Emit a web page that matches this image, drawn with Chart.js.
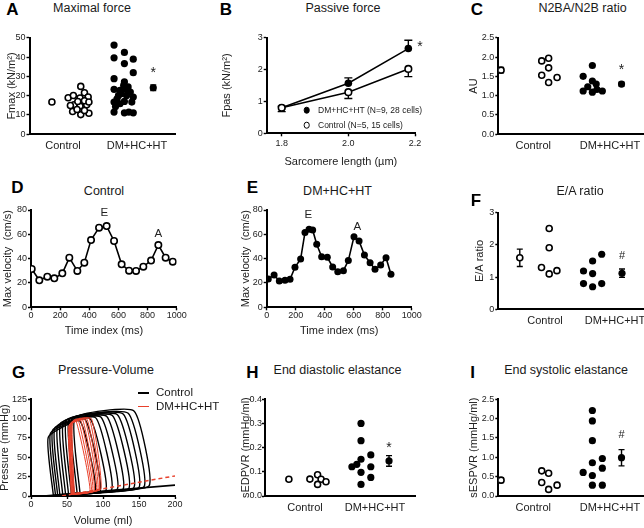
<!DOCTYPE html>
<html>
<head>
<meta charset="utf-8">
<title>Cardiac function panels</title>
<script src="https://cdn.jsdelivr.net/npm/chart.js@4.4.1/dist/chart.umd.min.js"></script>
<style>
  html, body { margin: 0; padding: 0; background: #fff; }
  body { position: relative; width: 644px; height: 528px; overflow: hidden;
         font-family: "Liberation Sans", Arial, Helvetica, sans-serif; color: #1a1a1a; }
  .t { position: absolute; white-space: nowrap; line-height: 1; transform: translate(-50%, -50%); z-index: 2; }
  .letter { font-size: 17px; font-weight: bold; color: #000; }
  .title { font-size: 12.5px; }
  .leg { position: absolute; white-space: nowrap; line-height: 1; transform: translateY(-50%); z-index: 2; }
  .dot { position: absolute; width: 4.6px; height: 4.6px; border-radius: 50%; border: 1.6px solid #000;
         transform: translate(-50%, -50%); z-index: 2; }
  .swatch { position: absolute; height: 0; width: 11px; z-index: 2; }
</style>
</head>
<body>
<!-- panel letters and titles -->
<div class="t letter" style="left:12.5px;top:9px">A</div>
<div class="t title" style="left:92px;top:7.5px">Maximal force</div>
<div class="t letter" style="left:226px;top:9px">B</div>
<div class="t title" style="left:343px;top:7.5px">Passive force</div>
<div class="t letter" style="left:477px;top:9px">C</div>
<div class="t title" style="left:582.5px;top:7.5px">N2BA/N2B ratio</div>
<div class="t letter" style="left:17.5px;top:187px">D</div>
<div class="t title" style="left:104px;top:190.7px">Control</div>
<div class="t letter" style="left:252.5px;top:187px">E</div>
<div class="t title" style="left:337.5px;top:190.7px">DM+HC+HT</div>
<div class="t letter" style="left:476px;top:200px">F</div>
<div class="t title" style="left:580px;top:191px">E/A ratio</div>
<div class="t letter" style="left:18.5px;top:372px">G</div>
<div class="t title" style="left:106px;top:370px">Pressure-Volume</div>
<div class="t letter" style="left:252.5px;top:372px">H</div>
<div class="t title" style="left:337.5px;top:370px">End diastolic elastance</div>
<div class="t letter" style="left:472.5px;top:372px">I</div>
<div class="t title" style="left:566px;top:370px">End systolic elastance</div>

<!-- legend of B -->
<div class="dot" style="left:306.7px;top:110px;background:#000"></div>
<div class="leg" style="left:318px;top:110px;font-size:8.5px">DM+HC+HT (N=9, 28 cells)</div>
<div class="dot" style="left:306.7px;top:125px;background:#fff"></div>
<div class="leg" style="left:318px;top:125px;font-size:8.5px">Control (N=5, 15 cells)</div>

<!-- legend of G -->
<div class="swatch" style="left:138px;top:392.3px;border-top:2px solid #000"></div>
<div class="leg" style="left:156px;top:393.3px;font-size:11.5px">Control</div>
<div class="swatch" style="left:138px;top:406px;border-top:1.5px solid #e8412c"></div>
<div class="leg" style="left:156px;top:406.7px;font-size:11.5px">DM+HC+HT</div>

<script>
// --- 1. DATA ---
const groups = ['Control', 'DM+HC+HT'];

// A: maximal force (kN/m²), x = group slot plus jitter
const fmaxCtrlX = [1.24, 1.07, 1.14, 1.23, 1.29, 1.34, 1.15, 1.23, 1.32, 1.13, 1.24, 1.35, 1.29, 1.20, 1.10, 1.29, 1.19, 1.35];
const fmaxCtrlY = [24.8, 18.9, 20.1, 18.8, 21.5, 19.3, 15.3, 14.6, 15.3, 11.8, 10.2, 10.9, 17.4, 17.0, 14.9, 12.3, 12.8, 16.7];
const fmaxDmX = [1.69, 1.83, 1.95, 1.69, 1.83, 1.95, 1.69, 1.83, 1.69, 1.77, 1.84, 1.91, 1.95, 1.86, 1.75, 1.69, 1.77, 1.83, 1.71, 1.69, 1.83, 1.89, 1.95, 1.79, 1.82, 1.88, 1.73, 1.93];
const fmaxDmY = [46.2, 42.4, 38.9, 39.6, 36.6, 31.9, 28.8, 27.1, 23.3, 22.7, 23.6, 21.9, 19.3, 20.1, 20.1, 16.7, 15.8, 17.0, 14.4, 11.5, 11.1, 11.5, 11.1, 21.0, 25.3, 24.5, 18.4, 16.7];
const fmaxMeanX = [0.85, 2.22];
const fmaxMean = [16.7, 24.1];
const fmaxSem = [0.9, 1.4];

// B: passive force vs sarcomere length
const sarcLen = [1.8, 2.0, 2.18];
const sarcTicks = [1.8, 2.0, 2.2];
const fpasCtrl = [0.80, 1.29, 2.02];
const fpasCtrlSem = [0.12, 0.20, 0.24];
const fpasDm = [0.80, 1.57, 2.66];
const fpasDmSem = [0.05, 0.17, 0.26];

// C: N2BA/N2B titin ratio (AU)
const ratioCtrlX = [1.11, 1.20, 1.20, 1.11, 1.20, 1.31];
const ratioCtrlY = [1.90, 1.97, 1.72, 1.53, 1.34, 1.47];
const ratioDmX = [1.77, 1.65, 1.77, 1.82, 1.71, 1.65, 1.77, 1.90, 1.83];
const ratioDmY = [1.78, 1.50, 1.38, 1.30, 1.23, 1.12, 1.09, 1.12, 1.16];
const ratioMeanX = [0.58, 2.15];
const ratioMean = [1.66, 1.30];
const ratioSem = [0.07, 0.05];

// D / E: mitral inflow max velocity (cm/s) over time (ms)
const timeTicks = [0, 200, 400, 600, 800, 1000];
const ctrlTime = [5, 57, 112, 160, 215, 263, 318, 366, 412, 467, 519, 570, 622, 673, 721, 771, 824, 874, 924, 973];
const ctrlVel = [31.5, 22.2, 25.2, 23.8, 27.9, 40.8, 29.9, 36.7, 55.3, 65.5, 66.8, 54.5, 35.3, 30.1, 29.9, 33.4, 38.4, 51.2, 40.8, 37.5];
const dmTime = [11, 51, 87, 126, 161, 195, 234, 264, 292, 317, 345, 379, 418, 455, 490, 529, 563, 602, 637, 674, 713, 747, 786, 823, 857];
const dmVel = [23.3, 26.6, 21.6, 22.2, 23.0, 32.9, 39.7, 61.6, 64.1, 63.6, 51.8, 41.6, 41.1, 33.2, 29.3, 30.1, 38.4, 58.1, 54.5, 43.0, 36.7, 31.2, 34.8, 40.8, 27.1];

// F: E/A ratio
const eaCtrlX = [1.06, 1.06, 0.95, 1.06, 1.17];
const eaCtrlY = [2.51, 1.91, 1.30, 1.10, 1.20];
const eaDmX = [1.55, 1.68, 1.81, 1.68, 1.55, 1.68, 1.81];
const eaDmY = [1.19, 1.50, 1.71, 1.11, 0.80, 0.70, 0.80];
const eaMeanX = [0.64, 2.10];
const eaMean = [1.60, 1.12];
const eaSem = [0.27, 0.13];

// G: pressure-volume loops during preload reduction (largest loop first)
const volTicks = [0, 50, 100, 150, 200];
const ctlEsvTop = [61, 57, 53, 49, 45, 41, 37, 33, 30, 27, 24];
const ctlPes    = [101, 100, 99, 98, 96, 94, 91, 88, 85, 81, 76];
const ctlEdvTop = [143, 135, 128, 120, 113, 105, 97, 90, 82, 75, 68];
const ctlPTop   = [110, 107, 106, 105, 104, 103, 102, 101, 100, 99, 97];
const ctlEdvBot = [164, 157, 150, 143, 136, 128, 120, 112, 104, 96, 89];
const ctlEdp    = [13, 12, 11, 11, 10, 9, 9, 8, 7, 6, 6];
const ctlEsvBot = [68, 64, 60, 56, 52, 48, 44, 40, 37, 34, 31];
const ctlPBot   = [4, 4, 3, 3, 3, 2, 2, 2, 1, 1, 1];

const dmEsvTop = [58, 57, 56, 55, 54, 54, 53, 52];
const dmPes    = [97, 96, 95, 94, 93, 92, 91, 90];
const dmEdvTop = [84, 81, 78, 75, 72, 69, 66, 63];
const dmPTop   = [100, 100, 99, 99, 98, 98, 97, 96];
const dmEdvBot = [97, 95, 93, 91, 88, 86, 84, 82];
const dmEdp    = [9, 9, 8, 8, 7, 7, 6, 6];
const dmEsvBot = [60, 60, 59, 58, 58, 57, 56, 56];
const dmPBot   = [3, 3, 3, 2, 2, 2, 2, 2];

// end-diastolic PV relations
const ctlEdpvrV = [17, 200];
const ctlEdpvrP = [0, 14];
const dmEdpvrV = [43, 200];
const dmEdpvrP = [0, 26];

// H: end diastolic elastance
const edCtrlX = [1.07, 1.18, 1.23, 1.30, 1.18];
const edCtrlY = [0.070, 0.088, 0.069, 0.059, 0.048];
const edDmX = [1.80, 1.80, 1.80, 1.67, 1.74, 1.80, 1.80, 1.94, 1.94, 1.94];
const edDmY = [0.300, 0.229, 0.152, 0.121, 0.131, 0.098, 0.048, 0.170, 0.121, 0.077];
const edMeanX = [0.77, 2.20];
const edMean = [0.069, 0.145];
const edSem = [0.005, 0.022];

// I: end systolic elastance
const esCtrlX = [1.11, 1.20, 1.11, 1.20, 1.31];
const esCtrlY = [0.65, 0.59, 0.35, 0.17, 0.28];
const esDmX = [1.77, 1.77, 1.77, 1.77, 1.90, 1.65, 1.77, 1.90, 1.77, 1.90];
const esDmY = [2.21, 1.94, 1.43, 0.86, 0.97, 0.61, 0.53, 0.72, 0.28, 0.28];
const esMeanX = [0.58, 2.15];
const esMean = [0.41, 0.99];
const esSem = [0.06, 0.21];

// --- 2. HELPERS ---
const FONT = '"Liberation Sans", Arial, Helvetica, sans-serif';
Chart.defaults.font.family = FONT;
Chart.defaults.color = '#222';
Chart.defaults.animation = false;
Chart.defaults.plugins.legend.display = false;
Chart.defaults.plugins.tooltip.enabled = false;

const OPEN = { pointRadius: 3, pointBorderWidth: 1.6, pointBackgroundColor: '#fff', pointBorderColor: '#000', showLine: false };
const FILLED = { pointRadius: 3.6, pointBorderWidth: 0, pointBackgroundColor: '#000', pointBorderColor: '#000', showLine: false };

function pts(xs, ys) { return xs.map((x, i) => ({ x, y: ys[i] })); }

// error bars (under the markers) and text marks (*, #, E, A)
function extras(bars, marks) {
    return {
        id: 'extras',
        beforeDatasetsDraw(chart) {
            const { ctx, scales: { x, y } } = chart;
            ctx.save();
            ctx.strokeStyle = '#000';
            ctx.lineWidth = 1.4;
            bars.forEach(b => {
                const px = x.getPixelForValue(b.x);
                const top = y.getPixelForValue(b.y + (b.up === false ? 0 : b.e));
                const bot = y.getPixelForValue(b.y - (b.down === false ? 0 : b.e));
                const cap = b.cap || 3;
                ctx.beginPath();
                ctx.moveTo(px, top); ctx.lineTo(px, bot);
                if (b.up !== false) { ctx.moveTo(px - cap, top); ctx.lineTo(px + cap, top); }
                if (b.down !== false) { ctx.moveTo(px - cap, bot); ctx.lineTo(px + cap, bot); }
                ctx.stroke();
            });
            ctx.restore();
        },
        afterDatasetsDraw(chart) {
            const { ctx, scales: { x, y } } = chart;
            ctx.save();
            ctx.fillStyle = '#222';
            ctx.textAlign = 'center';
            ctx.textBaseline = 'middle';
            marks.forEach(m => {
                ctx.font = `${m.size || 11}px ${FONT}`;
                ctx.fillText(m.text, x.getPixelForValue(m.x), y.getPixelForValue(m.y) + (m.dy || 0));
            });
            ctx.restore();
        }
    };
}

function yLin(min, max, step, title, dec) {
    return {
        min, max,
        ticks: { stepSize: step, font: { size: 9 }, color: '#222', padding: 1, callback: v => v.toFixed(dec) },
        grid: { display: true, drawOnChartArea: false, drawTicks: true, tickLength: 3, tickColor: '#000', tickWidth: 1.4 },
        border: { display: true, color: '#000', width: 2 },
        title: { display: true, text: title, font: { size: 11 }, color: '#222', padding: 0 }
    };
}

function xGroups(min, max) {
    return {
        min, max,
        afterBuildTicks: s => { s.ticks = [{ value: 1 }, { value: 2 }]; },
        ticks: { font: { size: 11 }, color: '#222', padding: 5, autoSkip: false, maxRotation: 0, callback: (v, i) => groups[i] },
        grid: { display: false, drawTicks: false },
        border: { display: true, color: '#000', width: 2 }
    };
}

function xLin(min, max, tickVals, dec, title, pad) {
    return {
        min, max,
        afterBuildTicks: s => { s.ticks = tickVals.map(v => ({ value: v })); },
        ticks: { font: { size: 9 }, color: '#222', padding: pad || 0, autoSkip: false, maxRotation: 0, callback: v => v.toFixed(dec) },
        grid: { display: true, drawOnChartArea: false, drawTicks: true, tickLength: 3, tickColor: '#000', tickWidth: 1.4 },
        border: { display: true, color: '#000', width: 2 },
        title: { display: true, text: title, font: { size: 11 }, color: '#222', padding: 0 }
    };
}

// plot = [left, top, right, bottom] of the axes box on the page
function drawPanel(plot, o) {
    const [pl, pt, pr, pb] = plot;
    const left = Math.round(o.yTitleX - 6.6);
    const top = Math.round(pt - 8);
    const right = Math.round(pr + (o.padR || 14));
    const bottom = Math.round(o.xTitleY ? o.xTitleY + 6.6 : pb + 24);
    const w = right - left, h = bottom - top;

    const div = document.createElement('div');
    div.style.cssText = `position:absolute;left:${left}px;top:${top}px;width:${w}px;height:${h}px`;
    const cv = document.createElement('canvas');
    cv.width = w; cv.height = h;
    cv.style.width = w + 'px'; cv.style.height = h + 'px';
    div.appendChild(cv);
    document.body.appendChild(div);

    const yW = pl - left, xH = bottom - pb;
    return new Chart(cv, {
        type: 'scatter',
        data: { datasets: o.datasets },
        options: {
            responsive: false,
            layout: { padding: { top: pt - top, right: right - pr, left: 0, bottom: 0 } },
            scales: {
                x: { ...o.x, afterFit: s => { s.height = xH; } },
                y: { ...o.y, afterFit: s => { s.width = yW; } }
            }
        },
        plugins: [extras(o.bars || [], o.marks || [])]
    });
}

function dotSets(cx, cy, dx, dy, mx, my) {
    return [
        { data: pts(cx, cy), ...OPEN },
        { data: pts(dx, dy), ...FILLED },
        { data: [{ x: mx[0], y: my[0] }], ...OPEN },
        { data: [{ x: mx[1], y: my[1] }], ...FILLED }
    ];
}

function meanBars(mx, my, sem) {
    return [{ x: mx[0], y: my[0], e: sem[0] }, { x: mx[1], y: my[1], e: sem[1] }];
}

function loops(edvTop, pTop, esvTop, pes, esvBot, pBot, edvBot, edp) {
    return edvTop.map((_, i) => [
        { x: esvBot[i], y: pBot[i] },
        { x: edvBot[i], y: edp[i] },
        { x: edvTop[i], y: pTop[i] },
        { x: esvTop[i], y: pes[i] },
        { x: esvBot[i], y: pBot[i] }
    ]);
}

// --- 3. PANELS ---
// A
drawPanel([29.5, 37.7, 175, 134.3], {
    yTitleX: 11.7,
    x: xGroups(0.547, 2.514),
    y: yLin(0, 50, 10, 'Fmax (kN/m²)', 0),
    datasets: dotSets(fmaxCtrlX, fmaxCtrlY, fmaxDmX, fmaxDmY, fmaxMeanX, fmaxMean),
    bars: meanBars(fmaxMeanX, fmaxMean, fmaxSem),
    marks: [{ x: 2.22, y: 33.3, text: '*', size: 14, dy: 3.5 }]
});

// B
drawPanel([266.7, 37.7, 415, 133.3], {
    yTitleX: 226.7, xTitleY: 162,
    x: xLin(1.755, 2.2, sarcTicks, 1, 'Sarcomere length (µm)', 2),
    y: yLin(0, 3, 1, 'Fpas (kN/m²)', 0),
    datasets: [
        { data: pts(sarcLen, fpasCtrl), ...OPEN, pointRadius: 3.3, showLine: true, borderColor: '#000', borderWidth: 1.5 },
        { data: pts(sarcLen, fpasDm), ...FILLED, pointRadius: 3.8, showLine: true, borderColor: '#000', borderWidth: 1.5 }
    ],
    bars: [
        ...sarcLen.map((x, i) => ({ x, y: fpasDm[i], e: fpasDmSem[i], down: false, cap: 4 })),
        ...sarcLen.map((x, i) => ({ x, y: fpasCtrl[i], e: fpasCtrlSem[i], up: false, cap: 4 }))
    ],
    marks: [{ x: 2.215, y: 2.81, text: '*', size: 14, dy: 3.5 }]
});

// C
drawPanel([498.3, 37.7, 644, 134.3], {
    yTitleX: 473.3,
    x: xGroups(0.544, 2.443),
    y: yLin(0, 2.5, 0.5, 'AU', 1),
    datasets: dotSets(ratioCtrlX, ratioCtrlY, ratioDmX, ratioDmY, ratioMeanX, ratioMean),
    bars: meanBars(ratioMeanX, ratioMean, ratioSem),
    marks: [{ x: 2.15, y: 1.75, text: '*', size: 14, dy: 3.5 }]
});

// D
drawPanel([31, 210, 176.7, 307.3], {
    yTitleX: 8, xTitleY: 331.7,
    x: xLin(0, 1000, timeTicks, 0, 'Time index (ms)'),
    y: yLin(0, 80, 20, 'Max velocity  (cm/s)', 0),
    datasets: [{ data: pts(ctrlTime, ctrlVel), ...OPEN, pointRadius: 3.2, showLine: true, borderColor: '#000', borderWidth: 1.6 }],
    marks: [{ x: 503, y: 77.3, text: 'E', size: 11.5 }, { x: 874, y: 60.8, text: 'A', size: 11.5 }]
});

// E
drawPanel([266.7, 210, 411.7, 307.3], {
    yTitleX: 245.5, xTitleY: 331.7,
    x: xLin(0, 1000, timeTicks, 0, 'Time index (ms)'),
    y: yLin(0, 80, 20, 'Max velocity  (cm/s)', 0),
    datasets: [{ data: pts(dmTime, dmVel), ...FILLED, pointRadius: 3.5, showLine: true, borderColor: '#000', borderWidth: 1.6 }],
    marks: [{ x: 287, y: 75.9, text: 'E', size: 11.5 }, { x: 625, y: 66.3, text: 'A', size: 11.5 }]
});

// F
drawPanel([498.3, 212.7, 644, 309.3], {
    yTitleX: 480,
    x: xGroups(0.333, 2.414),
    y: yLin(0, 3, 1, 'E/A ratio', 0),
    datasets: dotSets(eaCtrlX, eaCtrlY, eaDmX, eaDmY, eaMeanX, eaMean),
    bars: meanBars(eaMeanX, eaMean, eaSem),
    marks: [{ x: 2.10, y: 1.66, text: '#', size: 11 }]
});

// G
const ctlLoopPts = loops(ctlEdvTop, ctlPTop, ctlEsvTop, ctlPes, ctlEsvBot, ctlPBot, ctlEdvBot, ctlEdp);
const dmLoopPts = loops(dmEdvTop, dmPTop, dmEsvTop, dmPes, dmEsvBot, dmPBot, dmEdvBot, dmEdp);
const loopLine = { showLine: true, pointRadius: 0, tension: 0.15, fill: false };
drawPanel([31, 399.3, 175, 496], {
    yTitleX: 5, xTitleY: 521.7,
    x: xLin(0, 200, volTicks, 0, 'Volume (ml)'),
    y: yLin(0, 125, 25, 'Pressure (mmHg)', 0),
    datasets: [
        ...dmLoopPts.map(d => ({ data: d, ...loopLine, borderColor: '#e8412c', borderWidth: 1, order: 0 })),
        { data: pts(dmEdpvrV, dmEdpvrP), showLine: true, pointRadius: 0, borderColor: '#e8412c', borderWidth: 1.5, borderDash: [4, 3], order: 0 },
        ...ctlLoopPts.map(d => ({ data: d, ...loopLine, borderColor: '#000', borderWidth: 1.4, order: 1 })),
        { data: pts(ctlEdpvrV, ctlEdpvrP), showLine: true, pointRadius: 0, borderColor: '#000', borderWidth: 1.6, order: 1 }
    ]
});

// H
const edY = yLin(0, 0.4, 0.1, 'sEDPVR (mmHg/ml)', 1);
edY.ticks.padding = 0;
drawPanel([265, 399.3, 415, 496], {
    yTitleX: 246,
    x: xGroups(0.429, 2.571),
    y: edY,
    datasets: dotSets(edCtrlX, edCtrlY, edDmX, edDmY, edMeanX, edMean),
    bars: meanBars(edMeanX, edMean, edSem),
    marks: [{ x: 2.20, y: 0.214, text: '*', size: 14, dy: 3.5 }]
});

// I
drawPanel([498.3, 399.3, 644, 496], {
    yTitleX: 473.3,
    x: xGroups(0.544, 2.443),
    y: yLin(0, 2.5, 0.5, 'sESPVR (mmHg/ml)', 1),
    datasets: dotSets(esCtrlX, esCtrlY, esDmX, esDmY, esMeanX, esMean),
    bars: meanBars(esMeanX, esMean, esSem),
    marks: [{ x: 2.15, y: 1.58, text: '#', size: 11 }]
});
</script>
</body>
</html>
